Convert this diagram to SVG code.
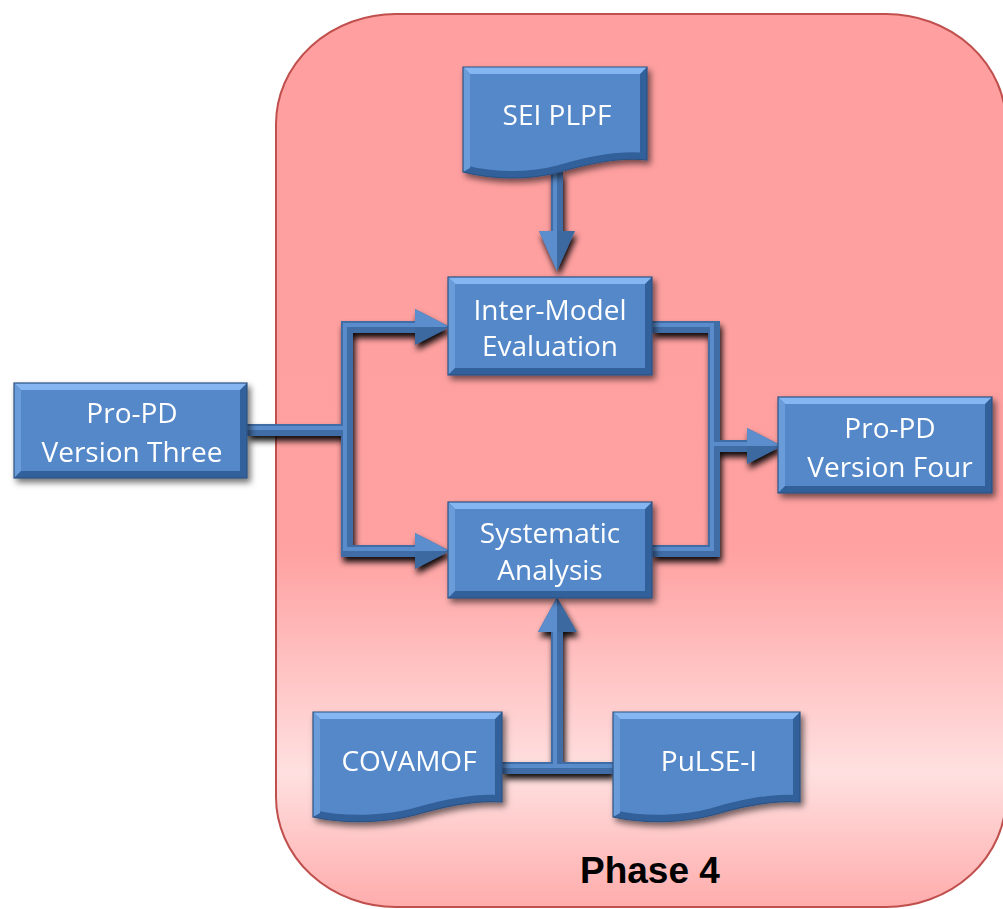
<svg xmlns="http://www.w3.org/2000/svg" width="1003" height="909" viewBox="0 0 1003 909">
<style>
.t{font-family:"Open Sans","Liberation Sans",sans-serif;font-size:28px;fill:#ffffff;text-anchor:middle}
.fill{fill:#5588C8}
.edge{fill:none;stroke:#33609A;stroke-width:14}
.outline{fill:none;stroke:#2C5282;stroke-width:1.2}
.hi{fill:#86B6F2}
.lf{fill:#6B9CDA}
.cw{fill:none;stroke:#3F6DA6;stroke-width:12;stroke-linejoin:miter;stroke-linecap:butt}
.ci{fill:none;stroke:#5A8BCA;stroke-width:4;stroke-linejoin:miter}
.ad{fill:#3C69A1}
.al{fill:#5C8DCC}
</style>
<defs>
<linearGradient id="bg" x1="0" y1="0" x2="0" y2="1">
<stop offset="0" stop-color="#FF9F9F"/>
<stop offset="0.6" stop-color="#FFA1A1"/>
<stop offset="0.85" stop-color="#FFE0E0"/>
<stop offset="1" stop-color="#FFACAC"/>
</linearGradient>
<filter id="ns" x="-20%" y="-20%" width="140%" height="150%">
<feDropShadow dx="3" dy="4" stdDeviation="3" flood-color="#000" flood-opacity="0.55"/>
</filter>
<filter id="cs" x="-20%" y="-20%" width="140%" height="160%">
<feDropShadow dx="2" dy="5" stdDeviation="3" flood-color="#000" flood-opacity="0.95"/>
</filter>
<clipPath id="c-sei"><path d="M463,67 H647 V160 C620,157 590,163 560,172 C530,180 495,180 463,172 Z"/></clipPath>
<clipPath id="c-cov"><path d="M313,712 H502 V802 C475,800 445,806 415,815 C385,823 345,824 313,817 Z"/></clipPath>
<clipPath id="c-pul"><path d="M613,712 H800 V802 C773,800 743,806 713,815 C683,823 645,824 613,817 Z"/></clipPath>
<clipPath id="c-ime"><rect x="448" y="277" width="204" height="98"/></clipPath>
<clipPath id="c-sa"><rect x="448" y="502" width="204" height="96"/></clipPath>
<clipPath id="c-p3"><rect x="14" y="383" width="233" height="95"/></clipPath>
<clipPath id="c-p4"><rect x="778" y="397" width="214" height="96"/></clipPath>
</defs>

<g id="phase4">
<rect x="276" y="14" width="730" height="893" rx="120" ry="110" fill="url(#bg)" stroke="#C0504D" stroke-width="2"/>
<text x="580" y="883" font-family="'Liberation Sans',Arial,sans-serif" font-weight="bold" font-size="37" fill="#000">Phase 4</text>
</g>

<g id="connectors" filter="url(#cs)">
<path class="cw" d="M247,430 H347"/>
<path class="cw" d="M420,327 H347 V551 H420"/>
<path class="ci" d="M247,428 H345"/>
<path class="ci" d="M420,325 H345 V549 H420"/>
<polygon class="ad" points="415,309 450,327 415,345"/>
<polygon class="al" points="415,309 450,327 415,327"/>
<polygon class="ad" points="415,533 450,551 415,569"/>
<polygon class="al" points="415,533 450,551 415,551"/>

<path class="cw" d="M652,327 H714 V551 H652"/>
<path class="cw" d="M714,446 H752"/>
<path class="ci" d="M652,325 H712 V549 H652"/>
<path class="ci" d="M712,444 H752"/>
<polygon class="ad" points="747,428 782,446 747,464"/>
<polygon class="al" points="747,428 782,446 747,446"/>

<path class="cw" d="M557,172 V236"/>
<path class="ci" d="M555,172 V236"/>
<polygon class="ad" points="539,231 557,271 575,231"/>
<polygon class="al" points="539,231 557,271 557,231"/>

<path class="cw" d="M502,768 H613 M557,768 V628"/>
<path class="ci" d="M502,766 H613 M555,766 V628"/>
<polygon class="ad" points="538,632 557,597 577,632"/>
<polygon class="al" points="538,632 557,597 557,632"/>
</g>

<g id="sei-plpf" filter="url(#ns)">
<path class="fill" d="M463,67 H647 V160 C620,157 590,163 560,172 C530,180 495,180 463,172 Z"/>
<path class="edge" clip-path="url(#c-sei)" d="M463,67 H647 V160 C620,157 590,163 560,172 C530,180 495,180 463,172 Z"/>
<polygon class="lf" points="463,67 470,74 470,168 463,172"/>
<polygon class="hi" points="463,67 647,67 640,74 470,74"/>
<path class="outline" d="M463,67 H647 V160 C620,157 590,163 560,172 C530,180 495,180 463,172 Z"/>
<text class="t" x="557" y="125">SEI PLPF</text>
</g>

<g id="inter-model" filter="url(#ns)">
<rect class="fill" x="448" y="277" width="204" height="98"/>
<rect class="edge" clip-path="url(#c-ime)" x="448" y="277" width="204" height="98"/>
<polygon class="lf" points="448,277 455,284 455,368 448,375"/>
<polygon class="hi" points="448,277 652,277 645,284 455,284"/>
<rect class="outline" x="448" y="277" width="204" height="98"/>
<text class="t" x="550" y="320">Inter-Model</text>
<text class="t" x="550" y="356">Evaluation</text>
</g>

<g id="systematic" filter="url(#ns)">
<rect class="fill" x="448" y="502" width="204" height="96"/>
<rect class="edge" clip-path="url(#c-sa)" x="448" y="502" width="204" height="96"/>
<polygon class="lf" points="448,502 455,509 455,591 448,598"/>
<polygon class="hi" points="448,502 652,502 645,509 455,509"/>
<rect class="outline" x="448" y="502" width="204" height="96"/>
<text class="t" x="550" y="543">Systematic</text>
<text class="t" x="550" y="580">Analysis</text>
</g>

<g id="pro-pd-three" filter="url(#ns)">
<rect class="fill" x="14" y="383" width="233" height="95"/>
<rect class="edge" clip-path="url(#c-p3)" x="14" y="383" width="233" height="95"/>
<polygon class="lf" points="14,383 21,390 21,471 14,478"/>
<polygon class="hi" points="14,383 247,383 240,390 21,390"/>
<rect class="outline" x="14" y="383" width="233" height="95"/>
<text class="t" x="132" y="423">Pro-PD</text>
<text class="t" x="132" y="462">Version Three</text>
</g>

<g id="pro-pd-four" filter="url(#ns)">
<rect class="fill" x="778" y="397" width="214" height="96"/>
<rect class="edge" clip-path="url(#c-p4)" x="778" y="397" width="214" height="96"/>
<polygon class="lf" points="778,397 785,404 785,486 778,493"/>
<polygon class="hi" points="778,397 992,397 985,404 785,404"/>
<rect class="outline" x="778" y="397" width="214" height="96"/>
<text class="t" x="890" y="438">Pro-PD</text>
<text class="t" x="890" y="477">Version Four</text>
</g>

<g id="covamof" filter="url(#ns)">
<path class="fill" d="M313,712 H502 V802 C475,800 445,806 415,815 C385,823 345,824 313,817 Z"/>
<path class="edge" clip-path="url(#c-cov)" d="M313,712 H502 V802 C475,800 445,806 415,815 C385,823 345,824 313,817 Z"/>
<polygon class="lf" points="313,712 320,719 320,813 313,817"/>
<polygon class="hi" points="313,712 502,712 495,719 320,719"/>
<path class="outline" d="M313,712 H502 V802 C475,800 445,806 415,815 C385,823 345,824 313,817 Z"/>
<text class="t" x="409" y="771">COVAMOF</text>
</g>

<g id="pulse-i" filter="url(#ns)">
<path class="fill" d="M613,712 H800 V802 C773,800 743,806 713,815 C683,823 645,824 613,817 Z"/>
<path class="edge" clip-path="url(#c-pul)" d="M613,712 H800 V802 C773,800 743,806 713,815 C683,823 645,824 613,817 Z"/>
<polygon class="lf" points="613,712 620,719 620,813 613,817"/>
<polygon class="hi" points="613,712 800,712 793,719 620,719"/>
<path class="outline" d="M613,712 H800 V802 C773,800 743,806 713,815 C683,823 645,824 613,817 Z"/>
<text class="t" x="709" y="771">PuLSE-I</text>
</g>
</svg>
